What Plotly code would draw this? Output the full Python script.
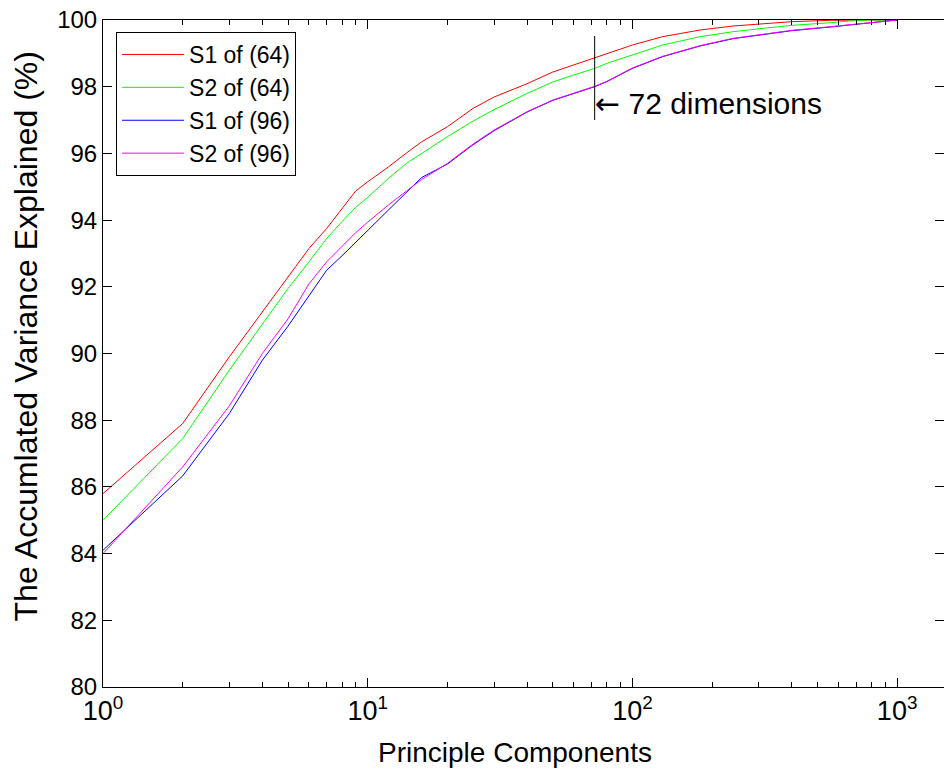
import math
import plotly.graph_objects as go

components = [1, 2, 3, 4, 5, 6, 7, 8, 9, 10, 12, 14, 16, 20, 25, 30, 40, 50, 60, 72,
              80, 100, 130, 180, 240, 320, 400, 560, 660, 790, 1000]

s1_64 = [85.8, 87.9, 89.9, 91.25, 92.3, 93.15, 93.75, 94.35, 94.87, 95.15, 95.6, 96.01,
         96.35, 96.8, 97.35, 97.69, 98.09, 98.44, 98.65, 98.87, 99.0, 99.25, 99.5, 99.7,
         99.82, 99.9, 99.95, 99.99, 100.0, 100.0, 100.0]
s2_64 = [85.0, 87.45, 89.5, 90.9, 91.95, 92.75, 93.45, 93.96, 94.38, 94.68, 95.26, 95.7,
         96.0, 96.5, 96.97, 97.31, 97.8, 98.14, 98.35, 98.55, 98.7, 98.95, 99.25, 99.5,
         99.65, 99.76, 99.84, 99.92, 99.97, 100.0, 100.0]
s1_96 = [84.1, 86.33, 88.2, 89.8, 90.82, 91.74, 92.5, 92.93, 93.32, 93.69, 94.31, 94.84,
         95.28, 95.68, 96.26, 96.68, 97.24, 97.59, 97.8, 98.0, 98.15, 98.55, 98.9, 99.22,
         99.44, 99.58, 99.68, 99.79, 99.85, 99.91, 100.0]
s2_96 = [84.0, 86.6, 88.43, 90.0, 91.04, 92.09, 92.75, 93.21, 93.62, 93.94, 94.46, 94.87,
         95.22, 95.7, 96.28, 96.7, 97.25, 97.6, 97.81, 98.01, 98.16, 98.56, 98.91, 99.23,
         99.45, 99.59, 99.69, 99.8, 99.86, 99.92, 100.0]

series_names = ["S1 of (64)", "S2 of (64)", "S1 of (96)", "S2 of (96)"]
series_colors = ["#ff0000", "#00ff00", "#0000ff", "#ff00ff"]
series_values = [s1_64, s2_64, s1_96, s2_96]

x_tick_vals = [1, 10, 100, 1000]
x_tick_text = ["10<sup>0</sup>", "10<sup>1</sup>", "10<sup>2</sup>", "10<sup>3</sup>"]
y_tick_vals = list(range(80, 101, 2))

marker_dim = 72
marker_label = "<span style='font-family:DejaVu Sans'>\u2190</span> 72 dimensions"

FONT = "Liberation Sans, Arial, sans-serif"

fig = go.Figure()
for name, color, vals in zip(series_names, series_colors, series_values):
    fig.add_trace(go.Scatter(x=components, y=vals, mode="lines", name=name,
                             line=dict(color=color, width=1)))

minor_vals = [m * 10 ** d for d in range(0, 4) for m in range(2, 10) if m * 10 ** d < 1500]

fig.update_xaxes(
    type="log", range=[0, 3.177],
    tickmode="array", tickvals=x_tick_vals, ticktext=x_tick_text,
    ticks="inside", ticklen=9, tickwidth=1, tickcolor="black",
    minor=dict(tickmode="array", tickvals=minor_vals, ticks="inside", ticklen=5,
               tickwidth=1, tickcolor="black", showgrid=False),
    showline=True, linecolor="black", linewidth=1, mirror="allticks",
    showgrid=False, zeroline=False,
    tickfont=dict(family=FONT, size=27, color="black"),
)
fig.update_yaxes(
    range=[80, 100], tickmode="array", tickvals=y_tick_vals,
    ticks="inside", ticklen=9, tickwidth=1, tickcolor="black",
    showline=True, linecolor="black", linewidth=1, mirror="allticks",
    showgrid=False, zeroline=False,
    tickfont=dict(family=FONT, size=24, color="black"),
)

fig.add_shape(type="line", xref="x", yref="y", x0=marker_dim, x1=marker_dim,
              y0=97.0, y1=99.52, line=dict(color="black", width=1))
fig.add_annotation(x=math.log10(marker_dim), y=97.51, xref="x", yref="y",
                   text=marker_label, showarrow=False, xanchor="left",
                   yanchor="middle", xshift=-2,
                   font=dict(family=FONT, size=30, color="black"))

fig.add_annotation(x=0.4899, y=-0.0975, xref="paper", yref="paper",
                   text="Principle Components", showarrow=False,
                   xanchor="center", yanchor="middle",
                   font=dict(family=FONT, size=28, color="black"))
fig.add_annotation(x=-0.0904, y=0.5255, xref="paper", yref="paper",
                   text="The Accumlated Variance Explained (%)", showarrow=False,
                   textangle=-90, xanchor="center", yanchor="middle",
                   font=dict(family=FONT, size=32, color="black"))

fig.update_layout(
    width=944, height=771,
    margin=dict(l=103, r=0, t=20, b=84),
    paper_bgcolor="white", plot_bgcolor="white",
    showlegend=True,
    legend=dict(x=0.0155, y=0.982, xanchor="left", yanchor="top",
                bgcolor="white", bordercolor="black", borderwidth=1,
                font=dict(family=FONT, size=23, color="black"),
                tracegroupgap=0, itemwidth=62),
)

fig.write_html("out.html")
